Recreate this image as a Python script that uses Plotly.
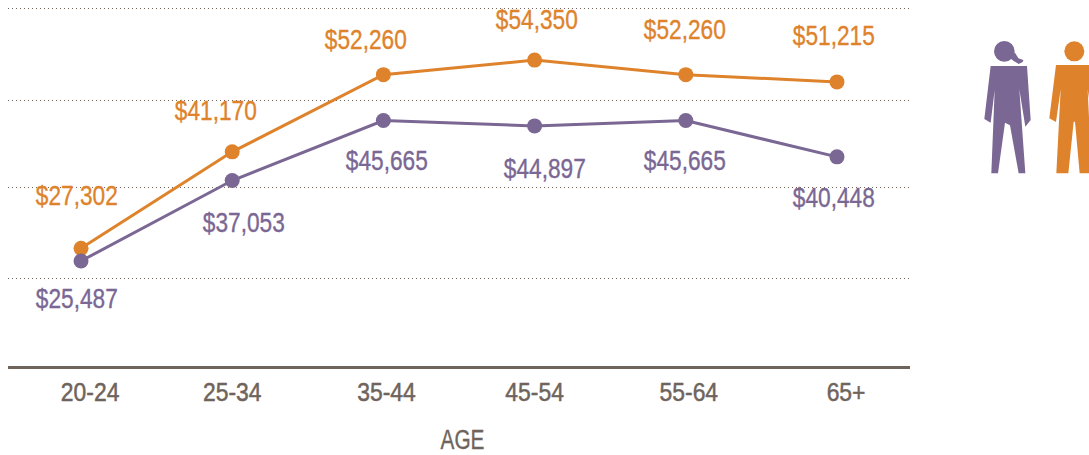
import plotly.graph_objects as go

age_groups = ["20-24", "25-34", "35-44", "45-54", "55-64", "65+"]
men_income = [27302, 41170, 52260, 54350, 52260, 51215]
women_income = [25487, 37053, 45665, 44897, 45665, 40448]
gridline_values = [23044, 36118, 48618, 61836]

ORANGE = "#de832b"
PURPLE = "#7a6793"
GREY = "#6f645c"
FONT = "Liberation Sans, Arial, sans-serif"

W, H = 1089, 455
L, R, T, B = 8, 910, 6, 366
x_pos = list(range(len(age_groups)))
# small horizontal offsets of the age labels and value labels, as in the source
tick_offsets = [0.06, 0.0, 0.02, 0.0, 0.02, 0.06]
men_label_shift = [(-4, 52), (-16, 41), (-17, 35), (2, 40), (-1, 45), (-3, 46)]
women_label_shift = [(-4, -38), (12, -43), (4, -40), (10, -43), (-1, -40), (-3, -41)]


def px(x, y):
    return (x - L) / (R - L), (B - y) / (B - T)


def path(points):
    # points in zoomed reference-crop units (3x, origin 960,20)
    out = []
    for i, (a, b) in enumerate(points):
        u, v = px(960 + a / 3, 20 + b / 3)
        out.append(("M" if i == 0 else "L") + f"{u:.5f},{v:.5f}")
    return " ".join(out) + " Z"


woman_body = [(92, 138), (201, 138), (212, 300), (196, 320), (178, 208), (196, 460), (176, 460),
              (150, 316), (135, 308), (114, 460), (94, 460), (104, 210), (92, 308), (73, 297)]
woman_tail = [(150, 100), (165, 98), (175, 115), (190, 120), (188, 126), (176, 132), (160, 122), (148, 112)]
man_body = [(288, 135), (398, 135), (418, 295), (397, 306), (383, 208), (395, 460), (359, 460),
            (345, 305), (341, 305), (325, 460), (289, 460), (302, 208), (288, 306), (268, 295)]


def head(cx, cy, r, color):
    x0, y0 = px(960 + (cx - r) / 3, 20 + (cy - r) / 3)
    x1, y1 = px(960 + (cx + r) / 3, 20 + (cy + r) / 3)
    return dict(type="circle", xref="paper", yref="paper", x0=x0, y0=y0, x1=x1, y1=y1,
                fillcolor=color, line_width=0, layer="above")


def poly(points, color):
    return dict(type="path", xref="paper", yref="paper", path=path(points),
                fillcolor=color, line_width=0, layer="above")


fig = go.Figure()
for name, vals, color in [("Men", men_income, ORANGE), ("Women", women_income, PURPLE)]:
    fig.add_trace(go.Scatter(x=x_pos, y=vals, name=name, mode="lines+markers",
                             line=dict(color=color, width=3),
                             marker=dict(color=color, size=15), cliponaxis=False))

annotations = []
for vals, shifts, color in [(men_income, men_label_shift, ORANGE), (women_income, women_label_shift, PURPLE)]:
    for x, v, (dx, dy) in zip(x_pos, vals, shifts):
        annotations.append(dict(x=x, y=v, text=f"${v:,}", showarrow=False, xshift=dx, yshift=dy,
                                font=dict(family=FONT, size=27, color=color)))
age_x, age_y = px(462, 440)
annotations.append(dict(xref="paper", yref="paper", x=age_x, y=age_y, text="AGE", showarrow=False,
                        xanchor="center", yanchor="middle",
                        font=dict(family=FONT, size=27, color=GREY)))

fig.update_layout(
    width=W, height=H, autosize=False, showlegend=False,
    margin=dict(l=L, r=W - R, t=T, b=H - B, pad=0),
    paper_bgcolor="white", plot_bgcolor="white",
    font=dict(family=FONT, color=GREY),
    xaxis=dict(range=[-0.483, 5.483], tickmode="array", automargin=False,
               tickvals=[x + o for x, o in zip(x_pos, tick_offsets)], ticktext=age_groups,
               tickfont=dict(size=26, color=GREY, family=FONT), ticks="outside", ticklen=1,
               tickcolor="rgba(0,0,0,0)", showgrid=False, zeroline=False,
               showline=True, linecolor=GREY, linewidth=3),
    yaxis=dict(range=[10401, 62123], tickmode="array", tickvals=gridline_values, automargin=False,
               showticklabels=False, ticks="", showgrid=True, gridcolor=GREY, gridwidth=1,
               griddash="1px,3px", zeroline=False, showline=False),
    annotations=annotations,
    shapes=[head(133, 94, 31, PURPLE), poly(woman_tail, PURPLE), poly(woman_body, PURPLE),
            head(343, 94, 30, ORANGE), poly(man_body, ORANGE)],
)

# The reference uses a condensed face; narrow the installed one while keeping real text.
post = """
document.body.style.margin = '0';
function squeeze(sel, k, sw) {
  document.querySelectorAll(sel).forEach(function (t) {
    var f = t.textContent === 'AGE' ? 0.77 : k;
    t.setAttribute('textLength', t.getComputedTextLength() * f);
    t.setAttribute('lengthAdjust', 'spacingAndGlyphs');
    t.style.stroke = t.style.fill;
    t.style.strokeWidth = sw;
  });
}
squeeze('.annotation-text', 0.84, '0.35px');
squeeze('.xtick text', 0.88, '0.5px');
"""
fig.write_html("out.html", post_script=post, config={"displayModeBar": False})
